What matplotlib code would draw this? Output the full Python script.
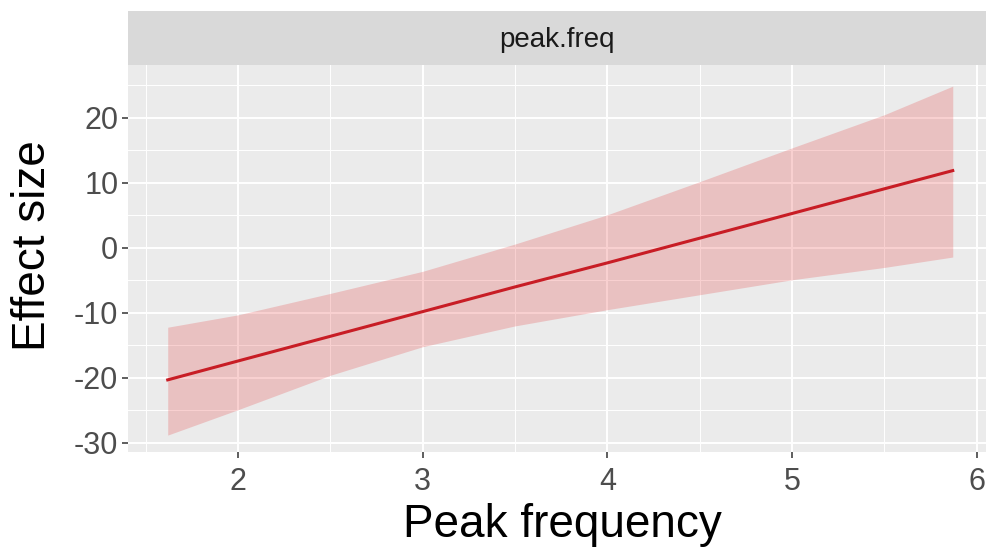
import matplotlib
matplotlib.use("Agg")
import matplotlib.pyplot as plt
import numpy as np

plt.rcParams['font.family'] = ['Liberation Sans', 'DejaVu Sans']

# Data
peak_freq = [1.62, 2.0, 2.5, 3.0, 3.5, 4.0, 4.5, 5.0, 5.5, 5.87]
effect = [-20.3, -17.4, -13.6, -9.8, -6.0, -2.3, 1.5, 5.3, 9.1, 11.9]
upper = [-12.2, -10.3, -7.0, -3.6, 0.6, 5.1, 10.2, 15.4, 20.5, 24.9]
lower = [-28.8, -24.9, -19.6, -15.2, -12.0, -9.5, -7.2, -4.9, -3.0, -1.4]
x_ticks = [2, 3, 4, 5, 6]
y_ticks = [-30, -20, -10, 0, 10, 20]
strip_label = "peak.freq"
x_title = "Peak frequency"
y_title = "Effect size"

W, H = 987, 555
fig = plt.figure(figsize=(W / 100, H / 100), dpi=100)

L, R, T, B = 128, 986, 65, 452
ax = fig.add_axes([L / W, 1 - B / H, (R - L) / W, (B - T) / H])
ax.set_facecolor('#EBEBEB')

ax.fill_between(peak_freq, lower, upper, color='#E41A1C', alpha=0.2, linewidth=0, zorder=2)
ax.plot(peak_freq, effect, color='#C81D25', linewidth=2.2, zorder=3)

ax.set_xlim(1.405, 6.05)
ax.set_ylim(-31.4, 28.15)
ax.set_xticks(x_ticks)
ax.set_yticks(y_ticks)
ax.set_xticks([1.5, 2.5, 3.5, 4.5, 5.5], minor=True)
ax.set_yticks([-25, -15, -5, 5, 15, 25], minor=True)
ax.set_xticklabels([str(v) for v in x_ticks])
ax.set_yticklabels([str(v) for v in y_ticks])

ax.grid(which='major', color='white', linewidth=1.4, zorder=0)
ax.grid(which='minor', color='white', linewidth=0.7, zorder=0)
ax.set_axisbelow(True)
for s in ax.spines.values():
    s.set_visible(False)

ax.tick_params(axis='both', which='major', length=4, width=1.1, color='#333333',
               labelsize=22, labelcolor='#4D4D4D')
ax.tick_params(axis='x', which='major', pad=7)
ax.tick_params(axis='y', which='major', pad=3)
ax.tick_params(axis='both', which='minor', length=0)

fig.text(562 / W, 1 - 537 / H, x_title, ha='center', va='baseline',
         fontsize=33, color='black')
fig.text(33 / W, 1 - 246 / H, y_title, ha='center', va='center', rotation=90,
         fontsize=33, color='black')

# facet strip
sax = fig.add_axes([L / W, 1 - T / H, (R - L) / W, 54 / H])
sax.set_facecolor('#D9D9D9')
sax.set_xticks([])
sax.set_yticks([])
for s in sax.spines.values():
    s.set_visible(False)
sax.text(0.5, 0.47, strip_label, ha='center', va='center', fontsize=20,
         color='#1A1A1A', transform=sax.transAxes)

fig.savefig("out.png", dpi=100)
